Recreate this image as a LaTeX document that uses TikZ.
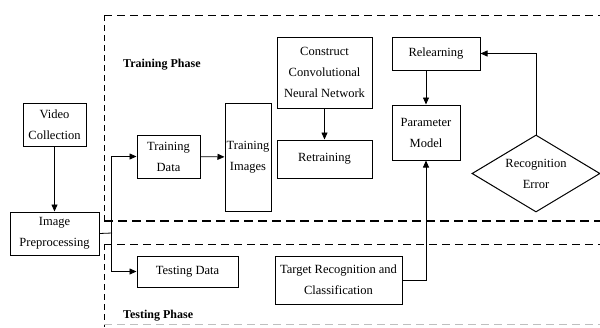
\documentclass[tikz,border=0pt]{standalone}
\usepackage{fontspec}
\setmainfont{Liberation Serif}
\usetikzlibrary{arrows.meta,shapes.geometric}
\begin{document}
\begin{tikzpicture}[x=1pt,y=-1pt,
  box/.style={draw,line width=1pt,inner sep=0pt,align=center,font=\fontsize{12.5}{21}\selectfont},
  dia/.style={draw,line width=1pt,diamond,inner sep=0pt,align=center,font=\fontsize{12.5}{21}\selectfont},
  arr/.style={line width=0.8pt,-{Triangle[length=7pt,width=6pt]}},
  ln/.style={line width=0.8pt},
  phase/.style={font=\fontsize{12}{14}\selectfont\bfseries,anchor=west,inner sep=0pt},
  dashA/.style={line width=0.7pt,dash pattern=on 8pt off 5pt},
  dashB/.style={line width=1.3pt,dash pattern=on 9pt off 5pt},
  dashV/.style={line width=0.7pt,dash pattern=on 6pt off 4pt}]
\useasboundingbox (0,0) rectangle (600,327);
% dashed phase frames
\draw[dashA] (104,15) -- (600,15);
\draw[dashV] (104,15) -- (104,221);
\draw[dashB] (104,221) -- (600,221);
\draw[dashA,line width=0.9pt] (104,244) -- (600,244);
\draw[dashV] (104,244) -- (104,327);
\draw[dashA,draw=black!25] (104,324) -- (600,324);
\node[phase] (trp) at (123,65) {Training Phase};
\node[phase] (tsp) at (123,316) {Testing Phase};
% nodes
\node[box,minimum width=63pt,minimum height=43pt] (vc) at (54.5,124.5) {Video\\Collection};
\node[box,minimum width=89pt,minimum height=43pt] (ip) at (54.5,233.5) {Image\\Preprocessing};
\node[box,minimum width=63pt,minimum height=43pt] (td) at (168.5,156.5) {Training\\Data};
\node[box,minimum width=46pt,minimum height=108pt] (ti) at (248,157) {Training\\Images};
\node[box,minimum width=95pt,minimum height=71pt] (cnn) at (324.5,72.5) {Construct\\Convolutional\\Neural Network};
\node[box,minimum width=95pt,minimum height=38pt] (rt) at (324.5,159) {Retraining};
\node[box,minimum width=88pt,minimum height=33pt] (rl) at (436,53.5) {Relearning};
\node[box,minimum width=68pt,minimum height=55pt] (pm) at (426,132.5) {Parameter\\Model};
\node[dia,minimum width=128pt,minimum height=77pt,aspect=1.66] (re) at (536,173.5) {Recognition\\Error};
\node[box,minimum width=127pt,minimum height=48pt] (trc) at (338.5,280) {Target Recognition and\\Classification};
\node[box,minimum width=101pt,minimum height=31pt] (tsd) at (187.5,271.5) {Testing Data};
% connectors
\draw[arr] (vc) -- (ip);
\coordinate (br) at (111,233);
\draw[ln] (ip.east) -- (112,233);
\draw[arr] (br) |- (td.west);
\draw[arr] (br) |- (tsd.west);
\draw[arr] (td) -- (ti);
\draw[arr] (cnn) -- (rt);
\draw[arr] (pm.north |- rl.south) -- (pm.north);
\draw[arr] (re.north) |- (rl.east);
\draw[arr] (trc.east) -| (pm.south);
\end{tikzpicture}
\end{document}
